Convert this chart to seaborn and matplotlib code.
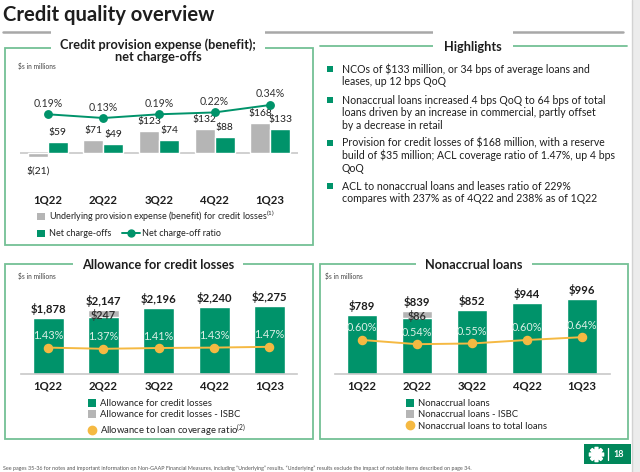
import numpy as np
import pandas as pd
import matplotlib
matplotlib.use("Agg")
import matplotlib.pyplot as plt
import seaborn as sns
from matplotlib.patches import Rectangle, Patch
from matplotlib.lines import Line2D

# ---------------- data ----------------
quarters = ["1Q22", "2Q22", "3Q22", "4Q22", "1Q23"]
provision = [-21, 71, 123, 132, 168]
nco = [59, 49, 74, 88, 133]
nco_ratio = [0.19, 0.13, 0.19, 0.22, 0.34]
acl_total = [1878, 2147, 2196, 2240, 2275]
acl_isbc = [0, 247, 0, 0, 0]
acl_ratio = [1.43, 1.37, 1.41, 1.43, 1.47]
nal_total = [789, 839, 852, 944, 996]
nal_isbc = [0, 86, 0, 0, 0]
nal_ratio = [0.60, 0.54, 0.55, 0.60, 0.64]

highlights = [
    ["NCOs of $133 million, or 34 bps of average loans and",
     "leases, up 12 bps QoQ"],
    ["Nonaccrual loans increased 4 bps QoQ to 64 bps of total",
     "loans driven by an increase in commercial, partly offset",
     "by a decrease in retail"],
    ["Provision for credit losses of $168 million, with a reserve",
     "build of $35 million; ACL coverage ratio of 1.47%, up 4 bps",
     "QoQ"],
    ["ACL to nonaccrual loans and leases ratio of 229%",
     "compares with 237% as of 4Q22 and 238% as of 1Q22"],
]
footnote = ("See pages 35-36 for notes and important information on Non-GAAP Financial Measures, "
            "including \u201cUnderlying\u201d results. \u201cUnderlying\u201d results exclude the impact "
            "of notable items described on page 34.")

# ---------------- style ----------------
sns.set_theme(style="white")
plt.rcParams["font.family"] = ["Lato", "DejaVu Sans"]
plt.rcParams["mathtext.default"] = "regular"

GREEN = "#00936a"
BORDER = "#74c095"
GREY = "#b5b5b5"
ORANGE = "#f5b942"
DARK = "#1e1e1e"
W, H = 640, 472
PT = 0.72  # px -> pt

fig = plt.figure(figsize=(6.4, 4.72), dpi=100)
fig.patch.set_facecolor("white")

# overlay in pixel coordinates for slide decorations
deco = fig.add_axes([0, 0, 1, 1], zorder=-1)
deco.set_xlim(0, W)
deco.set_ylim(H, 0)
deco.axis("off")


def add_ax(x0, y0, x1, y1):
    a = fig.add_axes([x0 / W, 1 - y1 / H, (x1 - x0) / W, (y1 - y0) / H])
    a.patch.set_alpha(0)
    return a


def box(x0, y0, x1, y1):
    deco.add_patch(Rectangle((x0, y0), x1 - x0, y1 - y0, fill=False, ec=BORDER, lw=1.3))


def panel_title(cx, cy, txt, pad=6.5):
    deco.text(cx, cy, txt, ha="center", va="center", fontsize=9.2, fontweight="bold",
              color=DARK, linespacing=1.0,
              bbox=dict(fc="white", ec="none", pad=pad))


# title and rule
deco.text(3, 15, "Credit quality overview", fontsize=14.6, fontweight="bold", color=DARK,
          ha="left", va="center")
deco.plot([3, 623], [32, 32], color="#a8a8a8", lw=1.8)
# right grey strip
deco.add_patch(Rectangle((632, 0), 8, H, fc="#ececec", ec="none"))
deco.plot([632, 632], [0, H], color="#d2d2d2", lw=1)

# ---------------- panel 1 ----------------
box(5, 48, 313, 245)
panel_title(158, 51, "Credit provision expense (benefit);\nnet charge-offs")
deco.text(18, 66, "$s in millions", fontsize=4.8, color="#444", va="center")

ax1 = add_ax(20, 95, 298, 190)
df1 = pd.DataFrame({"quarter": quarters * 2,
                    "series": ["Underlying provision"] * 5 + ["Net charge-offs"] * 5,
                    "value": provision + nco})
sns.barplot(data=df1, x="quarter", y="value", hue="series", palette=[GREY, GREEN],
            width=0.72, saturation=1, errorbar=None, legend=False, ax=ax1)
ax1.set_ylim(-205.6, 322.2)
ax1.axhline(0, color="#c8c8c8", lw=1.2, zorder=0)
for i, (p, n) in enumerate(zip(provision, nco)):
    lab = f"${p}" if p >= 0 else f"$({-p})"
    ax1.annotate(lab, (i - 0.18, p), xytext=(0, 9.5 * PT if p >= 0 else -14 * PT),
                 textcoords="offset points", ha="center", va="center", fontsize=7.4, color=DARK)
    ax1.annotate(f"${n}", (i + 0.18, n), xytext=(0, 9.5 * PT), textcoords="offset points",
                 ha="center", va="center", fontsize=7.4, color=DARK)
ax1b = ax1.twinx()
sns.pointplot(x=quarters, y=nco_ratio, color=GREEN, markers="o", markersize=5.3,
              linewidth=1.4, errorbar=None, ax=ax1b)
ax1b.set_ylim(-1.031, 0.501)
for i, r in enumerate(nco_ratio):
    ax1b.annotate(f"{r:.2f}%", (i, r), xytext=(0, 11 * PT), textcoords="offset points",
                  ha="center", va="center", fontsize=7.6, color="#333")

# ---------------- panel 3 : allowance ----------------
box(5, 264, 313, 439)
panel_title(158, 265, "Allowance for credit losses")
deco.text(18, 276, "$s in millions", fontsize=4.8, color="#444", va="center")

ax3 = add_ax(20.5, 290, 297, 374)
df3 = pd.DataFrame({"quarter": quarters, "total": acl_total, "isbc": acl_isbc})
df3["base"] = df3["total"] - df3["isbc"]
sns.barplot(data=df3, x="quarter", y="total", color=GREY, width=0.56, saturation=1,
            errorbar=None, ax=ax3)
sns.barplot(data=df3, x="quarter", y="base", color=GREEN, width=0.56, saturation=1,
            errorbar=None, ax=ax3)
ax3.set_ylim(0, 2809)
for i, (t, s) in enumerate(zip(acl_total, acl_isbc)):
    ax3.annotate(f"${t:,}", (i, t), xytext=(0, 9 * PT), textcoords="offset points",
                 ha="center", va="center", fontsize=8.2, fontweight="bold", color=DARK)
    if s:
        ax3.annotate(f"${s}", (i, t - s / 2), xytext=(0, -1), textcoords="offset points",
                     ha="center", va="center", fontsize=7.8, fontweight="bold", color="#333")
ax3b = ax3.twinx()
sns.pointplot(x=quarters, y=acl_ratio, color=ORANGE, markers="o", markersize=5.8,
              linewidth=1.4, errorbar=None, ax=ax3b)
ax3b.set_ylim(0.11, 4.31)
for i, r in enumerate(acl_ratio):
    ax3b.annotate(f"{r:.2f}%", (i, r), xytext=(0, 12 * PT), textcoords="offset points",
                  ha="center", va="center", fontsize=7.8, color="#dcefe6")

# ---------------- panel 4 : nonaccrual ----------------
box(320, 264, 628, 439)
panel_title(474, 265, "Nonaccrual loans")
deco.text(325, 276, "$s in millions", fontsize=4.8, color="#444", va="center")

ax4 = add_ax(334.5, 290, 609.5, 374)
df4 = pd.DataFrame({"quarter": quarters, "total": nal_total, "isbc": nal_isbc})
df4["base"] = df4["total"] - df4["isbc"]
sns.barplot(data=df4, x="quarter", y="total", color=GREY, width=0.56, saturation=1,
            errorbar=None, ax=ax4)
sns.barplot(data=df4, x="quarter", y="base", color=GREEN, width=0.56, saturation=1,
            errorbar=None, ax=ax4)
ax4.set_ylim(0, 1120)
for i, (t, s) in enumerate(zip(nal_total, nal_isbc)):
    ax4.annotate(f"${t:,}", (i, t), xytext=(0, 9 * PT), textcoords="offset points",
                 ha="center", va="center", fontsize=8.2, fontweight="bold", color=DARK)
    if s:
        ax4.annotate(f"${s}", (i, t - s / 2), xytext=(0, -1), textcoords="offset points",
                     ha="center", va="center", fontsize=7.8, fontweight="bold", color="#333")
ax4b = ax4.twinx()
sns.pointplot(x=quarters, y=nal_ratio, color=ORANGE, markers="o", markersize=5.8,
              linewidth=1.4, errorbar=None, ax=ax4b)
ax4b.set_ylim(0.114, 1.314)
for i, r in enumerate(nal_ratio):
    ax4b.annotate(f"{r:.2f}%", (i, r), xytext=(0, 12 * PT), textcoords="offset points",
                  ha="center", va="center", fontsize=7.8, color="#dcefe6")

# common axis styling
for a, pad in [(ax1, 3), (ax3, 5), (ax4, 5)]:
    a.set_xlim(-0.5, 4.5)
    a.set_xticks(range(len(quarters)))
    a.set_xticklabels(quarters, fontsize=8.2, fontweight="bold", color=DARK)
    a.tick_params(axis="x", length=0, pad=pad)
    a.set_yticks([])
    a.set_xlabel("")
    a.set_ylabel("")
    for sp in a.spines.values():
        sp.set_visible(False)
for a in (ax3, ax4):
    a.spines["bottom"].set_visible(True)
    a.spines["bottom"].set_color("#c8c8c8")
    a.spines["bottom"].set_linewidth(1.2)
for a in (ax1b, ax3b, ax4b):
    a.set_xlim(-0.5, 4.5)
    a.set_yticks([])
    a.set_ylabel("")
    for sp in a.spines.values():
        sp.set_visible(False)

# ---------------- legends ----------------
LEG = dict(frameon=False, fontsize=6.5, handlelength=0.9, handleheight=0.9,
           handletextpad=0.45, borderpad=0, borderaxespad=0, labelcolor="#222")
sq = lambda c: Patch(fc=c, ec="none")
fig.legend([sq(GREY)], ["Underlying provision expense (benefit) for credit losses$^{(1)}$"],
           loc="center left", bbox_to_anchor=(37 / W, 1 - 216 / H), **LEG)
fig.legend([sq(GREEN)], ["Net charge-offs"],
           loc="center left", bbox_to_anchor=(37 / W, 1 - 234 / H), **LEG)
leg_line = dict(LEG)
leg_line.update(handlelength=2.0, handletextpad=0.2)
fig.legend([Line2D([], [], color=GREEN, lw=1.4, marker="o", ms=5)], ["Net charge-off ratio"],
           loc="center left", bbox_to_anchor=(122 / W, 1 - 234 / H), **leg_line)

leg3 = dict(LEG)
leg3.update(labelspacing=0.25, fontsize=6.8, handlelength=0.85, handleheight=0.85)
fig.legend([sq(GREEN), sq(GREY), Line2D([], [], ls="none", marker="o", ms=6, color=ORANGE)],
           ["Allowance for credit losses", "Allowance for credit losses - ISBC",
            "Allowance to loan coverage ratio$^{(2)}$"],
           loc="upper left", bbox_to_anchor=(88 / W, 1 - 399 / H), **leg3)
fig.legend([sq(GREEN), sq(GREY), Line2D([], [], ls="none", marker="o", ms=6, color=ORANGE)],
           ["Nonaccrual loans", "Nonaccrual loans - ISBC", "Nonaccrual loans to total loans"],
           loc="upper left", bbox_to_anchor=(406 / W, 1 - 399 / H), **leg3)

# ---------------- highlights ----------------
deco.plot([320, 627], [46, 46], color=BORDER, lw=1.3)
deco.text(473, 47, "Highlights", ha="center", va="center", fontsize=9.2, fontweight="bold",
          color=DARK, bbox=dict(fc="white", ec="none", pad=8))
ystarts = [69, 100, 143, 186]
for y0, lines in zip(ystarts, highlights):
    deco.add_patch(Rectangle((327, y0 - 3), 6, 6, fc=GREEN, ec="none"))
    for k, ln in enumerate(lines):
        deco.text(342, y0 + k * 12.7, ln, fontsize=7.6, color=DARK, ha="left", va="center")

# ---------------- footer ----------------
deco.text(3, 468, footnote, fontsize=3.9, color="#555", ha="left", va="center")
deco.add_patch(Rectangle((584, 444), 47, 20, fc="#00875a", ec="none"))
deco.plot([596], [454], marker=(8, 2, 0), ms=11, mec="white", mew=2.6)
deco.plot([596], [454], marker="s", ms=4.5, mfc="white", mec="white")
deco.plot([608, 608], [448, 460], color="white", lw=0.9)
deco.text(619, 454.5, "18", color="white", fontsize=6.5, fontweight="bold", ha="center", va="center")

fig.savefig("out.png", dpi=100, facecolor="white")
